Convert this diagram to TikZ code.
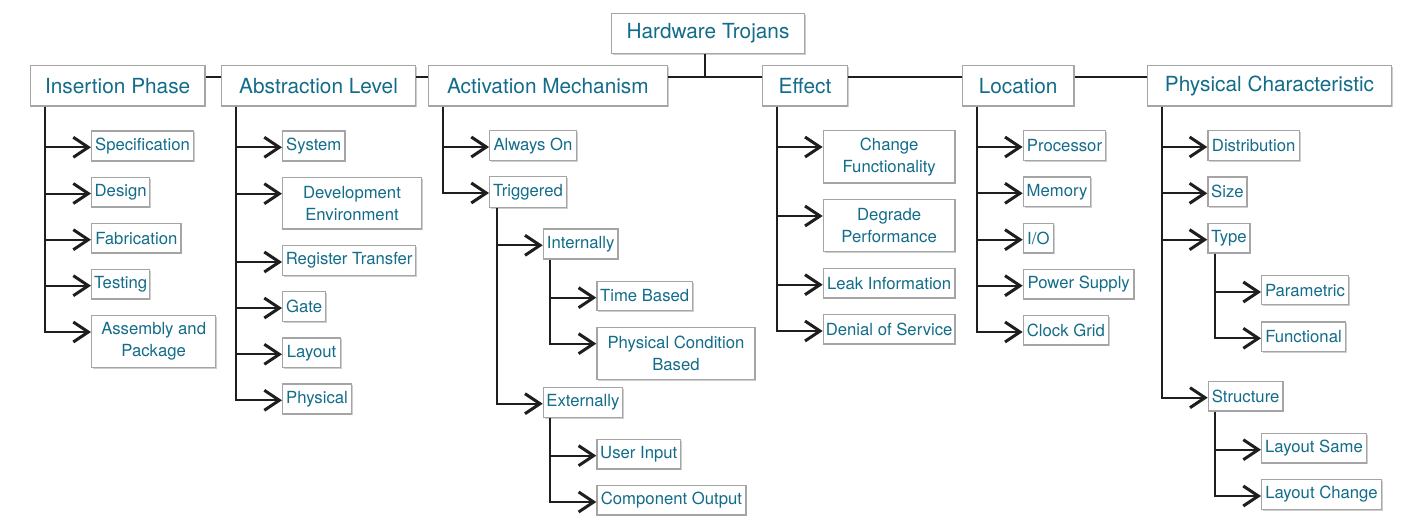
\documentclass[tikz,border=0pt]{standalone}
\usepackage{fontspec}
\setmainfont{TeX Gyre Heros}
\usetikzlibrary{arrows.meta,shadows}
\definecolor{tcol}{RGB}{18,108,138}
\definecolor{bcol}{RGB}{165,165,165}
\definecolor{lcol}{RGB}{30,30,30}
\tikzset{
  box/.style={draw=bcol, line width=1.3pt, fill=white, text=tcol, inner sep=0pt,
    anchor=north west, align=center,
    drop shadow={shadow xshift=1.5pt, shadow yshift=-1.5pt, opacity=0.35, fill=black!55}},
  hdr/.style={box, font=\fontsize{20.8}{24}\selectfont},
  leaf/.style={box, font=\fontsize{16.7}{22}\selectfont},
  link/.style={draw=lcol, line width=2pt},
  arr/.style={link, -{Straight Barb[length=15pt,width=20pt,line width=3pt]}}
}
\begin{document}
\begin{tikzpicture}[x=1pt,y=-1pt]
\useasboundingbox (0,0) rectangle (1419,527);
% headers
\node[hdr, minimum width=192.7pt, minimum height=40pt] (ht) at (611,12.7) {Hardware Trojans};
\node[hdr, minimum width=174.6pt, minimum height=40.6pt] (ins) at (29.7,64.7) {Insertion Phase};
\node[hdr, minimum width=194.3pt, minimum height=40.6pt] (abs) at (220.7,64.7) {Abstraction Level};
\node[hdr, minimum width=239pt, minimum height=40.6pt] (act) at (427.7,64.7) {Activation Mechanism};
\node[hdr, minimum width=85.3pt, minimum height=40.6pt] (eff) at (761.7,64.7) {Effect};
\node[hdr, minimum width=111.6pt, minimum height=40.6pt] (loc) at (961.7,64.7) {Location};
\node[hdr, minimum width=244.3pt, minimum height=40.6pt] (pc) at (1146.7,64.7) {Physical Characteristic};
% trunk
\coordinate (j) at ([yshift=-12.3pt,xshift=-56.3pt]eff.north west);
\draw[link] ([yshift=-12.3pt]ins.north east) -- ([yshift=-12.3pt]abs.north west);
\draw[link] ([yshift=-12.3pt]abs.north east) -- ([yshift=-12.3pt]act.north west);
\draw[link] ([yshift=-12.3pt]act.north east) -- ([yshift=-12.3pt]eff.north west);
\draw[link] ([yshift=-12.3pt]eff.north east) -- ([yshift=-12.3pt]loc.north west);
\draw[link] ([yshift=-12.3pt]loc.north east) -- ([yshift=-12.3pt]pc.north west);
\draw[link] (ht.south -| j) -- (j);
% Insertion Phase
\node[leaf, minimum width=101.7pt, minimum height=30pt] (spec) at (91,130.3) {Specification};
\node[leaf, minimum width=58pt, minimum height=29.7pt] (des) at (91,176.5) {Design};
\node[leaf, minimum width=89.3pt, minimum height=29.6pt] (fab) at (91,222.7) {Fabrication};
\node[leaf, minimum width=58pt, minimum height=29.6pt] (tst) at (91,268.7) {Testing};
\node[leaf, minimum width=124pt, minimum height=52pt] (asm) at (91,315) {Assembly and\\Package};
% Abstraction Level
\node[leaf, minimum width=62.3pt, minimum height=30pt] (sys) at (282,130.3) {System};
\node[leaf, minimum width=138.7pt, minimum height=51.6pt] (dev) at (282,176.7) {Development\\Environment};
\node[leaf, minimum width=133pt, minimum height=30pt] (rt) at (282,245) {Register Transfer};
\node[leaf, minimum width=43pt, minimum height=30pt] (gate) at (282,291) {Gate};
\node[leaf, minimum width=58pt, minimum height=29.7pt] (lay) at (282,337.3) {Layout};
\node[leaf, minimum width=68.7pt, minimum height=30pt] (phy) at (282,383.3) {Physical};
% Activation Mechanism
\node[leaf, minimum width=86.7pt, minimum height=30pt] (aon) at (489,130) {Always On};
\node[leaf, minimum width=76.7pt, minimum height=30.7pt] (trig) at (489,176) {Triggered};
\node[leaf, minimum width=74.6pt, minimum height=30pt] (intl) at (542.7,228.3) {Internally};
\node[leaf, minimum width=95.4pt, minimum height=29.3pt] (time) at (596.3,280.7) {Time Based};
\node[leaf, minimum width=158pt, minimum height=52.3pt] (pcb) at (596.3,326.7) {Physical Condition\\Based};
\node[leaf, minimum width=79pt, minimum height=30pt] (extl) at (542.7,386.7) {Externally};
\node[leaf, minimum width=83.7pt, minimum height=29.6pt] (ui) at (596.3,438.7) {User Input};
\node[leaf, minimum width=149pt, minimum height=29.3pt] (co) at (596.3,485) {Component Output};
% Effect
\node[leaf, minimum width=131.6pt, minimum height=52.3pt] (cf) at (822.7,130) {Change\\Functionality};
\node[leaf, minimum width=131.6pt, minimum height=52pt] (dp) at (822.7,199) {Degrade\\Performance};
\node[leaf, minimum width=131.6pt, minimum height=29.6pt] (li) at (822.7,267.7) {Leak Information};
\node[leaf, minimum width=131.6pt, minimum height=29.3pt] (dos) at (822.7,314) {Denial of Service};
% Location
\node[leaf, minimum width=82.3pt, minimum height=30pt] (proc) at (1022.7,130) {Processor};
\node[leaf, minimum width=67.3pt, minimum height=29.7pt] (mem) at (1022.7,176.3) {Memory};
\node[leaf, minimum width=30pt, minimum height=29.6pt] (io) at (1022.7,222.7) {I/O};
\node[leaf, minimum width=110.6pt, minimum height=29.6pt] (ps) at (1022.7,268.7) {Power Supply};
\node[leaf, minimum width=85pt, minimum height=29.3pt] (cg) at (1022.7,315) {Clock Grid};
% Physical Characteristic
\node[leaf, minimum width=91.4pt, minimum height=30pt] (dist) at (1207.3,130) {Distribution};
\node[leaf, minimum width=39pt, minimum height=29.7pt] (size) at (1207.3,176.3) {Size};
\node[leaf, minimum width=42pt, minimum height=29.6pt] (type) at (1207.3,222.7) {Type};
\node[leaf, minimum width=86.7pt, minimum height=29pt] (par) at (1261,275) {Parametric};
\node[leaf, minimum width=83.7pt, minimum height=29.4pt] (fun) at (1261,321.3) {Functional};
\node[leaf, minimum width=74.6pt, minimum height=29.6pt] (str) at (1207.7,380.7) {Structure};
\node[leaf, minimum width=104.7pt, minimum height=29.6pt] (ls) at (1261,432.7) {Layout Same};
\node[leaf, minimum width=119.7pt, minimum height=29.7pt] (lc) at (1261,479) {Layout Change};
% connectors
\foreach \p/\s/\cs in {ins/15/{spec,des,fab,tst,asm},
                       abs/15/{sys,dev,rt,gate,lay,phy},
                       act/15/{aon,trig},
                       trig/7.7/{intl,extl},
                       intl/7.3/{time,pcb},
                       extl/7.3/{ui,co},
                       eff/15/{cf,dp,li,dos},
                       loc/15/{proc,mem,io,ps,cg},
                       pc/15/{dist,size,type,str},
                       type/7.7/{par,fun},
                       str/7.3/{ls,lc}}{
  \foreach \c in \cs {
    \draw[arr] ([xshift=\s pt]\p.south west) |- ([yshift=-17pt]\c.north west);
  }
}
\end{tikzpicture}
\end{document}
